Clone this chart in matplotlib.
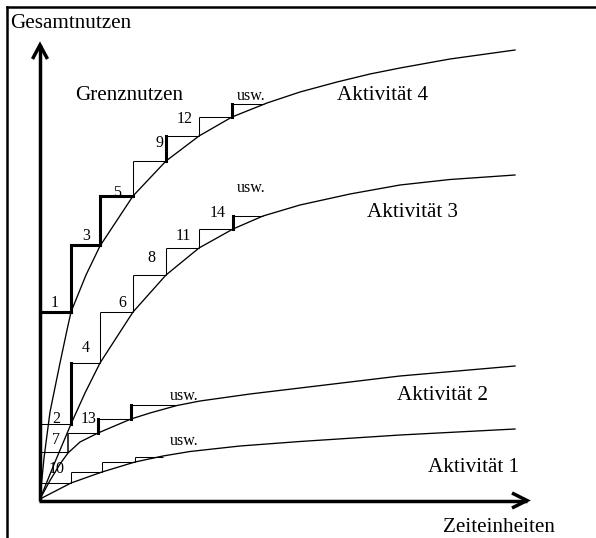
import matplotlib
matplotlib.use("Agg")
import matplotlib.pyplot as plt

# ---------------- data (drawing units, origin = crossing of the two axes) ----------------
# total-utility curves: x = time units, y = total utility
akt4_x = [0, 4, 10, 20, 27, 31, 46, 60, 93, 126, 159, 192, 227, 260, 297, 330, 360, 410, 475]
akt4_y = [0, 41, 87, 136, 169, 187, 224, 253, 303, 338, 363, 382, 396, 407, 417, 425, 431, 440, 449]

akt3_x = [0, 15, 31, 45, 60, 93, 126, 159, 193, 223, 260, 310, 360, 410, 475]
akt3_y = [0, 37, 75, 106, 136, 187, 224, 251, 270, 283, 294, 305, 314, 319.5, 324]

akt2_x = [0, 10, 20, 28, 40, 58, 91, 110, 137, 160, 210, 260, 360, 475]
akt2_y = [0, 18.5, 35, 46, 57, 66, 80, 86, 93.5, 98, 105, 111, 123, 133]

akt1_x = [0, 31, 62, 95, 123, 150, 200, 260, 360, 475]
akt1_y = [0, 16, 27, 37, 43, 47.5, 53, 57.5, 64, 70]

# marginal-utility steps: boundaries of the time units and the curve level at each boundary
akt4_step_x = [0, 31, 60, 93, 126, 159, 192, 224]
akt4_step_y = [0, 187, 254, 303, 338, 363, 382, 395]
akt3_step_x = [0, 31, 60, 93, 126, 159, 193, 223]
akt3_step_y = [0, 75, 136, 187, 224, 251, 270, 283]
akt2_step_x = [0, 28, 58, 91, 137]
akt2_step_y = [0, 47, 66, 80, 94.5]
akt1_step_x = [0, 31, 62, 95, 123]
akt1_step_y = [0, 16, 27, 37, 42]

# order in which the time units are allocated (labels)
order_labels = ["1", "3", "5", "9", "12", "4", "6", "8", "11", "14", "2", "7", "13", "10"]

activity_names = ["Aktivität 4", "Aktivität 3", "Aktivität 2", "Aktivität 1"]

# ---------------- styles ----------------
# line weight per riser / horizontal of each step (0 thin, 1 medium, 2 bold)
akt4_riser_w = [2, 2, 2, 0, 2, 0, 2]
akt4_horiz_w = [2, 2, 2, 0, 0, 0, 0]
akt3_riser_w = [2, 2, 0, 0, 0, 0, 2]
akt3_horiz_w = [0, 0, 0, 0, 0, 0, 0]
akt2_riser_w = [2, 1, 2, 2]
akt2_horiz_w = [0, 0, 0, 0]
akt1_riser_w = [0, 0, 0, 0]
akt1_horiz_w = [0, 0, 0, 0]
LW = {0: 0.75, 1: 1.1, 2: 2.2}

FONT = "Liberation Serif"
BIG = 15.2
SMALL = 11.5

fig = plt.figure(figsize=(5.96, 5.38), dpi=100)
ax = fig.add_axes([0, 0, 1, 1])
ax.set_xlim(-40, 556)
ax.set_ylim(-39, 499)
ax.axis("off")

# frame (top and left border of the table cell)
ax.plot([-33, 556], [492, 492], color="k", lw=1.8, solid_capstyle="projecting", clip_on=False)
ax.plot([-33, -33], [492, -39], color="k", lw=1.8, solid_capstyle="projecting", clip_on=False)

# curves
for cx, cy in [(akt4_x, akt4_y), (akt3_x, akt3_y), (akt2_x, akt2_y), (akt1_x, akt1_y)]:
    ax.plot(cx, cy, color="k", lw=0.95, solid_joinstyle="round")

# steps
def draw_steps(bx, lv, rw, hw):
    for k in range(len(bx) - 1):
        if k > 0:
            ax.plot([bx[k], bx[k]], [lv[k], lv[k + 1]], color="k", lw=LW[rw[k]],
                    solid_capstyle="projecting" if rw[k] == 2 else "butt")
        ax.plot([bx[k], bx[k + 1]], [lv[k + 1], lv[k + 1]], color="k", lw=LW[hw[k]],
                solid_capstyle="projecting" if hw[k] == 2 else "butt")

draw_steps(akt4_step_x, akt4_step_y, akt4_riser_w, akt4_horiz_w)
draw_steps(akt3_step_x, akt3_step_y, akt3_riser_w, akt3_horiz_w)
draw_steps(akt2_step_x, akt2_step_y, akt2_riser_w, akt2_horiz_w)
draw_steps(akt1_step_x, akt1_step_y, akt1_riser_w, akt1_horiz_w)

# axes with open arrow heads
ax.plot([0, 0], [-1.5, 454], color="k", lw=2.5, solid_capstyle="butt")
ax.plot([-7.5, 0, 7.5], [440, 454, 440], color="k", lw=2.5, solid_joinstyle="miter",
        solid_capstyle="butt")
ax.plot([-1.5, 487], [-1.5, -1.5], color="k", lw=2.5, solid_capstyle="butt")
ax.plot([472, 487, 472], [6, -1.5, -9], color="k", lw=2.5, solid_joinstyle="miter",
        solid_capstyle="butt")

# texts
def t(x, y, s, size, ha="left"):
    ax.text(x, y, s, fontsize=size, family=FONT, ha=ha, va="baseline", color="k")

t(-30, 471.5, "Gesamtnutzen", BIG)
t(35, 399, "Grenznutzen", BIG)
t(403, -32.5, "Zeiteinheiten", BIG)
name_pos = [(297, 399), (327, 282), (357, 99), (388, 27.5)]
for (x, y), s in zip(name_pos, activity_names):
    t(x, y, s, BIG)

usw_pos = [(197, 399), (197, 307), (130, 99), (130, 54)]
for x, y in usw_pos:
    t(x, y, "usw.", SMALL)

label_pos = [(15, 192), (46, 259), (77, 302), (119.5, 352), (145, 376),
             (46, 147), (82, 192), (111, 237), (143, 259), (178, 282),
             (16, 76), (16, 54.5), (49, 76), (16.5, 26)]
for (x, y), s in zip(label_pos, order_labels):
    t(x, y, s, SMALL, ha="center")

fig.savefig("out.png", dpi=100)
